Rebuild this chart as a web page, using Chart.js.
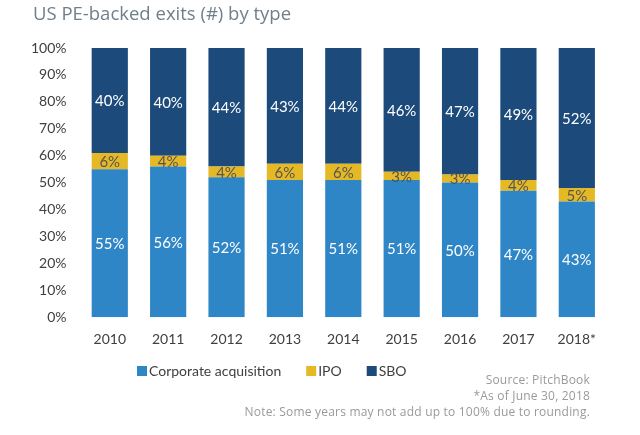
<!DOCTYPE html>
<html>
<head>
<meta charset="utf-8">
<script src="https://cdn.jsdelivr.net/npm/chart.js@4"></script>
<style>
  body { margin: 0; background: #fff; }
  #wrap { width: 640px; height: 435px; }
</style>
</head>
<body>
<div id="wrap"><canvas id="exitsChart"></canvas></div>
<script>
const years = ['2010', '2011', '2012', '2013', '2014', '2015', '2016', '2017', '2018*'];
const corporateAcq = [55, 56, 52, 51, 51, 51, 50, 47, 43];
const ipo = [6, 4, 4, 6, 6, 3, 3, 4, 5];
const sbo = [40, 40, 44, 43, 44, 46, 47, 49, 52];
const chartTitle = 'US PE-backed exits (#) by type';
const footnotes = [
    'Source: PitchBook',
    '*As of June 30, 2018',
    'Note: Some years may not add up to 100% due to rounding.'
];

const labelFont = 'Lato, "Open Sans", sans-serif';

// labels in the middle of each segment
const segmentLabels = {
    id: 'segmentLabels',
    afterDatasetsDraw(chart) {
        const ctx = chart.ctx;
        ctx.save();
        ctx.textAlign = 'center';
        ctx.textBaseline = 'middle';
        ctx.font = '15px ' + labelFont;
        chart.data.datasets.forEach((ds, i) => {
            const meta = chart.getDatasetMeta(i);
            meta.data.forEach((bar, j) => {
                const top = Math.max(bar.y, chart.chartArea.top);
                const mid = (top + bar.base) / 2;
                ctx.fillStyle = ds.labelColor;
                ctx.fillText(ds.data[j] + '%', bar.x, mid + 1);
            });
        });
        ctx.restore();
    }
};

// title, legend row and footnotes
const decorations = {
    id: 'decorations',
    afterDraw(chart) {
        const ctx = chart.ctx;
        ctx.save();

        ctx.textBaseline = 'middle';
        ctx.textAlign = 'left';
        ctx.fillStyle = '#6f7f8c';
        ctx.font = '18.5px "Open Sans", sans-serif';
        ctx.fillText(chartTitle, 33, 15);

        // legend
        ctx.font = '14px ' + labelFont;
        let x = 137;
        const y = 371;
        chart.data.datasets.forEach(ds => {
            ctx.fillStyle = ds.backgroundColor;
            ctx.fillRect(x, y - 5, 10, 10);
            ctx.fillStyle = '#404040';
            ctx.fillText(ds.label, x + 12, y);
            x += 12 + ctx.measureText(ds.label).width + 25;
        });

        ctx.textAlign = 'right';
        ctx.fillStyle = '#9a9a9a';
        ctx.font = '12px "Open Sans", sans-serif';
        ctx.letterSpacing = '0.2px';
        footnotes.forEach((t, i) => {
            ctx.fillText(t, 590, 381 + i * 16);
        });
        ctx.restore();
    }
};

const ctx = document.getElementById('exitsChart').getContext('2d');
new Chart(ctx, {
    type: 'bar',
    data: {
        labels: years,
        datasets: [
            {
                label: 'Corporate acquisition',
                data: corporateAcq,
                backgroundColor: '#2f86c6',
                labelColor: '#ffffff'
            },
            {
                label: 'IPO',
                data: ipo,
                backgroundColor: '#e4b925',
                labelColor: '#555555'
            },
            {
                label: 'SBO',
                data: sbo,
                backgroundColor: '#1c4a7b',
                labelColor: '#ffffff'
            }
        ]
    },
    options: {
        responsive: true,
        maintainAspectRatio: false,
        animation: false,
        datasets: {
            bar: { categoryPercentage: 1, barPercentage: 0.62 }
        },
        layout: {
            padding: { left: 25, right: 34, top: 48, bottom: 81 }
        },
        scales: {
            x: {
                stacked: true,
                grid: { display: false },
                border: { display: false },
                ticks: {
                    color: '#404040',
                    font: { family: labelFont, size: 14 },
                    padding: 6
                }
            },
            y: {
                stacked: true,
                min: 0,
                max: 100,
                grid: { display: false },
                border: { display: false },
                ticks: {
                    stepSize: 10,
                    color: '#404040',
                    font: { family: labelFont, size: 14 },
                    padding: 6,
                    callback: v => v + '%'
                }
            }
        },
        plugins: {
            legend: { display: false },
            title: { display: false },
            tooltip: { enabled: false }
        }
    },
    plugins: [segmentLabels, decorations]
});
</script>
</body>
</html>
